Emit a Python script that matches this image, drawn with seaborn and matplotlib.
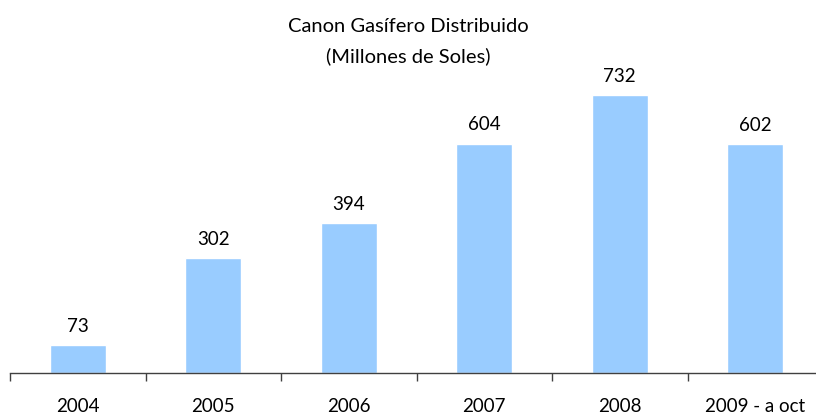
import numpy as np
import pandas as pd
import seaborn as sns
import matplotlib.pyplot as plt

years = ['2004', '2005', '2006', '2007', '2008', '2009 - a oct']
values = [73, 302, 394, 604, 732, 602]

df = pd.DataFrame({'year': years, 'value': values})

sns.set_style('white')
plt.rcParams['font.family'] = ['Lato', 'DejaVu Sans']
plt.rcParams['text.color'] = 'black'
plt.rcParams['xtick.color'] = 'black'

fig = plt.figure(figsize=(8.16, 4.14), dpi=100)
ax = fig.add_axes([10 / 816, 40 / 414, 813 / 816, 354 / 414])

sns.barplot(data=df, x='year', y='value', color='#99CCFF', width=0.41,
            saturation=1, ax=ax)

ax.set_xlim(-0.5, 5.5)
ax.set_ylim(0, 932)

for i, v in enumerate(values):
    ax.annotate(str(v), (i, v), xytext=(0, 8), textcoords='offset points',
                ha='center', va='bottom', fontsize=13.5, color='black')

for s in ['top', 'right', 'left']:
    ax.spines[s].set_visible(False)
ax.spines['bottom'].set_color('#404040')
ax.spines['bottom'].set_linewidth(1)

ax.set_yticks([])
ax.set_xlabel('')
ax.set_ylabel('')
ax.tick_params(axis='x', which='major', length=0, pad=17.5, labelsize=13.5,
               labelcolor='black')
ax.set_xticks(np.arange(-0.5, 6, 1), minor=True)
ax.tick_params(axis='x', which='minor', length=6, width=1, color='#404040',
               direction='out', bottom=True)

fig.text(0.5, 1 - 26 / 414, 'Canon Gasífero Distribuido', ha='center',
         va='center', fontsize=14.5, color='black')
fig.text(0.5, 1 - 56 / 414, '(Millones de Soles)', ha='center',
         va='center', fontsize=14.5, color='black')

fig.savefig('out.png', dpi=100)
